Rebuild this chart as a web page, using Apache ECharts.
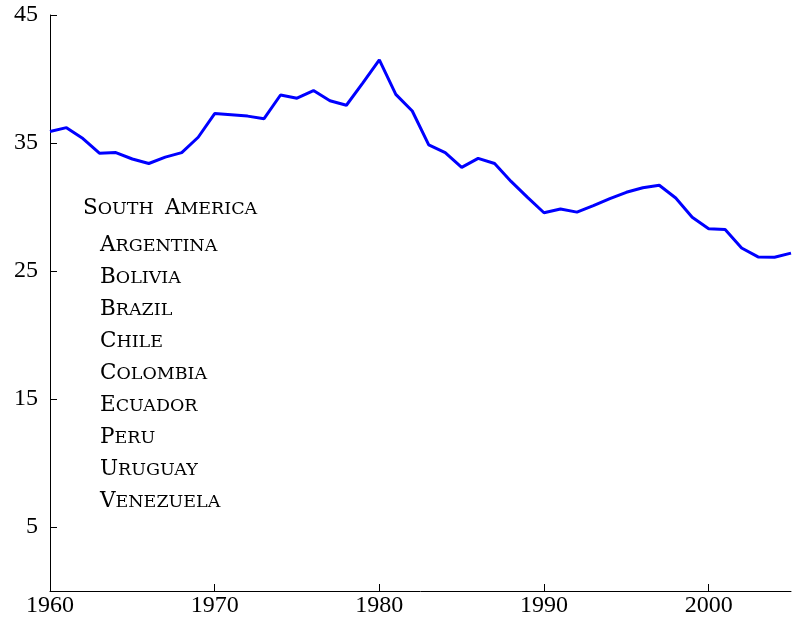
<!DOCTYPE html>
<html>
<head>
<meta charset="utf-8">
<style>
  html, body { margin: 0; padding: 0; background: #fff; }
  #chart { width: 796px; height: 623px; }
</style>
<script src="https://cdn.jsdelivr.net/npm/echarts@6/dist/echarts.min.js"></script>
</head>
<body>
<div id="chart"></div>
<script>
const years = [
  1960, 1961, 1962, 1963, 1964, 1965, 1966, 1967, 1968, 1969,
  1970, 1971, 1972, 1973, 1974, 1975, 1976, 1977, 1978, 1979,
  1980, 1981, 1982, 1983, 1984, 1985, 1986, 1987, 1988, 1989,
  1990, 1991, 1992, 1993, 1994, 1995, 1996, 1997, 1998, 1999,
  2000, 2001, 2002, 2003, 2004, 2005
]
const values = [
  35.9, 36.2, 35.35, 34.2, 34.25, 33.75, 33.4, 33.9, 34.25, 35.45,
  37.3, 37.2, 37.1, 36.9, 38.75, 38.5, 39.1, 38.3, 37.95, 39.7,
  41.5, 38.8, 37.5, 34.85, 34.25, 33.1, 33.8, 33.4, 32.0, 30.75,
  29.55, 29.85, 29.6, 30.1, 30.65, 31.15, 31.5, 31.7, 30.7, 29.2,
  28.3, 28.25, 26.8, 26.1, 26.07, 26.4
]
const xTicks = [1960, 1970, 1980, 1990, 2000]
const yTicks = [5, 15, 25, 35, 45]
const region = 'South America'
const countries = [
  'Argentina', 'Bolivia', 'Brazil', 'Chile', 'Colombia',
  'Ecuador', 'Peru', 'Uruguay', 'Venezuela'
]

const FONT = 'Liberation Serif'
const CAPS_FONT = 'DejaVu Serif'

// fake small caps: first letter of each word big, rest upper-cased and smaller
const smallCaps = (text) =>
  text.split(' ').map((w) => '{c|' + w[0].toUpperCase() + '}{s|' + w.slice(1).toUpperCase() + '}').join('{s|  }')

const capsRich = {
  c: { fontFamily: CAPS_FONT, fontSize: 21.5, color: '#000', verticalAlign: 'bottom', lineHeight: 26 },
  s: { fontFamily: CAPS_FONT, fontSize: 17.5, color: '#000', verticalAlign: 'bottom', lineHeight: 26, padding: [0, 0, 1, 0] },
}

const labelItems = [
  { type: 'text', left: 83, top: 197, style: { text: smallCaps(region), rich: capsRich } },
  ...countries.map((name, i) => ({
    type: 'text',
    left: 100,
    top: 234 + i * 32,
    style: { text: smallCaps(name), rich: capsRich },
  })),
]

const chart = echarts.init(document.getElementById('chart'))
chart.setOption({
  backgroundColor: '#fff',
  animation: false,
  grid: { left: 50, right: 5, top: 15, bottom: 32 },
  xAxis: {
    type: 'value',
    min: 1960,
    max: 2005,
    axisLine: { show: true, lineStyle: { color: '#000', width: 1 } },
    axisTick: { show: true, inside: true, length: 7, customValues: xTicks, lineStyle: { color: '#000' } },
    axisLabel: {
      customValues: xTicks,
      formatter: (v) => String(v),
      margin: 3,
      color: '#000',
      fontFamily: FONT,
      fontSize: 24,
    },
    splitLine: { show: false },
  },
  yAxis: {
    type: 'value',
    min: 0,
    max: 45,
    axisLine: { show: true, lineStyle: { color: '#000', width: 1 } },
    axisTick: { show: true, inside: true, length: 7, customValues: yTicks, lineStyle: { color: '#000' } },
    axisLabel: {
      customValues: yTicks,
      margin: 12,
      color: '#000',
      fontFamily: FONT,
      fontSize: 24,
    },
    splitLine: { show: false },
  },
  graphic: labelItems,
  series: [
    {
      type: 'line',
      data: years.map((y, i) => [y, values[i]]),
      symbol: 'none',
      smooth: false,
      lineStyle: { color: '#0000ff', width: 3 },
      emphasis: { disabled: true },
    },
  ],
})
</script>
</body>
</html>
